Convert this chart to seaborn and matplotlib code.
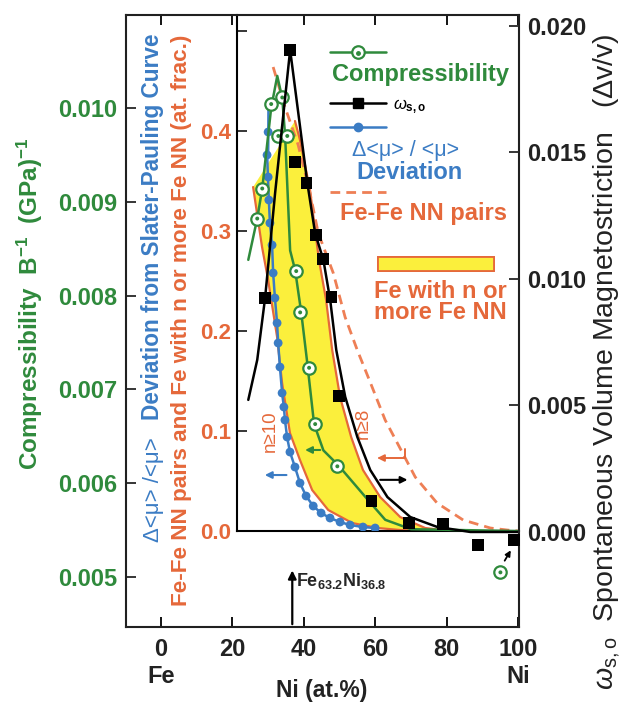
import numpy as np
import pandas as pd
import seaborn as sns
import matplotlib.pyplot as plt
from matplotlib.lines import Line2D
from matplotlib.patches import Patch

# compressibility B^-1 (GPa^-1), open circles
comp_ni = [27.0, 28.4, 30.9, 32.9, 34.0, 35.4, 37.9, 39.0, 41.5, 43.2, 49.4, 95.0]
comp_val = [0.00882, 0.00914, 0.01004, 0.00970, 0.01011, 0.00970,
            0.00826, 0.00782, 0.00723, 0.00663, 0.00618, 0.00505]
# compressibility guide curve
comp_line_ni = [24.5, 27.0, 28.4, 30.9, 32.6, 34.0, 34.8, 36.2, 37.6, 39.3,
                40.9, 42.9, 45.5, 49.7, 58.0, 62.8, 70.0, 100.0]
comp_line_val = [0.00838, 0.00882, 0.00914, 0.01000, 0.01034, 0.01010, 0.00970,
                 0.00848, 0.00827, 0.00782, 0.00731, 0.00663, 0.00635, 0.00619,
                 0.00582, 0.00561, 0.00551, 0.00549]

# spontaneous volume magnetostriction omega_s,o, squares
omega_ni = [29.2, 36.1, 37.6, 40.8, 43.4, 45.4, 47.8, 49.8, 59.0, 69.5, 78.9, 88.8, 98.8]
omega_val = [0.00925, 0.01905, 0.01462, 0.01379, 0.01174, 0.01079, 0.00929,
             0.00538, 0.00123, 0.00036, 0.00032, -0.00051, -0.00032]
omega_line_ni = [24.5, 27.0, 29.2, 32.0, 36.2, 41.0, 43.2, 45.5, 47.4, 49.1,
                 51.6, 55.0, 58.6, 63.4, 69.8, 77.3, 86.6, 100.0]
omega_line_val = [0.00522, 0.00680, 0.00925, 0.01340, 0.01905, 0.01380, 0.01180,
                  0.01075, 0.00917, 0.00719, 0.00534, 0.00375, 0.00245, 0.00138,
                  0.00059, 0.00020, 0.0, 0.0]

# deviation from Slater-Pauling curve
dev_ni = [30.2, 30.1, 29.8, 30.1, 30.3, 30.6, 31.2, 31.5, 32.0, 32.6, 32.9, 33.4,
          34.0, 34.5, 34.8, 35.4, 36.2, 37.6, 39.0, 40.7, 42.7, 44.9, 47.4, 50.2,
          53.0, 56.6, 60.0]
dev_val = [0.425, 0.399, 0.376, 0.354, 0.331, 0.308, 0.286, 0.258, 0.233, 0.208,
           0.188, 0.164, 0.138, 0.124, 0.111, 0.094, 0.079, 0.064, 0.048, 0.035,
           0.025, 0.018, 0.013, 0.009, 0.006, 0.004, 0.003]

# Fe-Fe nearest-neighbour pairs (at. frac.)
pairs_ni = [31.5, 34.8, 38.5, 41.8, 44.1, 48.3, 51.6, 55.0, 58.6, 62.8, 66.2,
            71.2, 77.3, 84.6, 92.2, 96.9, 100.0]
pairs_val = [0.464, 0.424, 0.386, 0.338, 0.298, 0.258, 0.214, 0.181, 0.149,
             0.111, 0.088, 0.054, 0.028, 0.011, 0.003, 0.001, 0.0]

# Fe with n or more Fe NN: n>=10 and n>=8 bounds
n10_ni = [25.9, 28.4, 30.1, 32.6, 34.0, 36.2, 39.0, 42.4, 46.9, 53.6, 60.8, 67.0, 75.0]
n10_val = [0.344, 0.284, 0.251, 0.194, 0.148, 0.098, 0.071, 0.041, 0.021, 0.008,
           0.003, 0.001, 0.0]
n8_ni = [37.6, 39.0, 41.8, 44.3, 46.3, 48.0, 50.2, 53.3, 56.6, 61.4, 67.0, 74.0, 81.0]
n8_val = [0.410, 0.391, 0.341, 0.271, 0.231, 0.181, 0.134, 0.094, 0.061, 0.034,
          0.014, 0.003, 0.0]

GREEN = "#2f8a3c"
BLUE = "#3b7cc4"
ORANGE = "#e5683a"
YELLOW = "#fbef3c"
DARK = "#222222"

sns.set_theme(style="white")
plt.rcParams["font.family"] = ["Liberation Sans", "DejaVu Sans"]
plt.rcParams["mathtext.fontset"] = "custom"
plt.rcParams["mathtext.rm"] = "Liberation Sans"
plt.rcParams["mathtext.bf"] = "Liberation Sans:bold"
plt.rcParams["mathtext.it"] = "Liberation Sans:italic"

fig = plt.figure(figsize=(6.25, 7.04), dpi=100)
fig.patch.set_facecolor("white")
ax_in = fig.add_axes([0.3792, 0.2457, 0.4512, 0.7330])
ax_out = fig.add_axes([0.2016, 0.1094, 0.6288, 0.8693])
ax_out.patch.set_alpha(0)
ax_in.set_zorder(1)
ax_out.set_zorder(2)
ax_r = ax_out.twinx()
ax_r.set_zorder(3)

# ---- inner axes: fractions ----
poly_x = n10_ni + n8_ni[::-1]
poly_y = n10_val + n8_val[::-1]
ax_in.fill(poly_x, poly_y, color=YELLOW, zorder=1, lw=0)
sns.lineplot(x=n10_ni, y=n10_val, ax=ax_in, color=ORANGE, lw=1.6, sort=False, zorder=2)
sns.lineplot(x=n8_ni, y=n8_val, ax=ax_in, color=ORANGE, lw=1.6, sort=False, zorder=2)
sns.lineplot(x=pairs_ni, y=pairs_val, ax=ax_in, color="#ee7f55", lw=2.0,
             sort=False, zorder=2).lines[-1].set_dashes([3.5, 2.2])
sns.lineplot(x=dev_ni, y=dev_val, ax=ax_in, color=BLUE, lw=1.8, sort=False, zorder=3)
sns.scatterplot(x=dev_ni[1:], y=dev_val[1:], ax=ax_in, color=BLUE, s=40,
                edgecolor="none", zorder=4)

ax_in.set_xlim(21.4, 100.2)
ax_in.set_ylim(0, 0.516)
ax_in.set_xticks([])
ax_in.set_yticks([0.0, 0.1, 0.2, 0.3, 0.4, 0.5])
ax_in.set_yticklabels(["0.0", "0.1", "0.2", "0.3", "0.4", ""])
ax_in.tick_params(axis="y", direction="in", length=7, width=1.3, pad=4,
                  labelsize=16, labelcolor=ORANGE, left=True)
for lab in ax_in.get_yticklabels():
    lab.set_fontweight("bold")
for s in ["top", "right"]:
    ax_in.spines[s].set_visible(False)
for s in ["left", "bottom"]:
    ax_in.spines[s].set_linewidth(1.5)
    ax_in.spines[s].set_color("black")
ax_in.set_xlabel("")
ax_in.set_ylabel("")

ax_in.text(30.6, 0.10, "n≥10", color=ORANGE, fontsize=13.5, rotation=90,
           ha="center", va="center")
ax_in.text(56.6, 0.108, "n≥8", color=ORANGE, fontsize=13.5, rotation=90,
           ha="center", va="center")
ax_in.annotate("", xy=(28.4, 0.056), xytext=(36.0, 0.056),
               arrowprops=dict(arrowstyle="-|>", color=BLUE, lw=1.5, mutation_scale=10))
ax_in.annotate("", xy=(59.8, 0.073), xytext=(68.4, 0.085),
               arrowprops=dict(arrowstyle="-|>", color=ORANGE, lw=1.4, mutation_scale=10,
                               connectionstyle="angle,angleA=90,angleB=0,rad=0"))

# legend keys
def key(handle, fx, fy, length, height=0.7):
    leg = ax_in.legend(handles=[handle], labels=[""], loc="center",
                       bbox_to_anchor=(fx, fy), frameon=False, handlelength=length,
                       handleheight=height, handletextpad=0, borderpad=0, fontsize=10)
    ax_in.add_artist(leg)

key(Line2D([], [], color=GREEN, lw=1.8, marker="o", ms=9, mfc="white", mec=GREEN, mew=1.6),
    0.43, 0.926, 4.0)
key(Line2D([], [], color="black", lw=1.8, marker="s", ms=6.5), 0.43, 0.828, 4.0)
key(Line2D([], [], color=BLUE, lw=1.8, marker="o", ms=6), 0.43, 0.781, 4.0)
key(Line2D([], [], color="#ee7f55", lw=2.0, ls=(0, (3.5, 2.2))), 0.43, 0.655, 4.0)
key(Patch(facecolor=YELLOW, edgecolor=ORANGE, lw=1.3), 0.706, 0.516, 8.4, 1.15)
ax_in.plot([0.43], [0.926], transform=ax_in.transAxes, marker="o", ms=2.5,
           color=GREEN, zorder=10)

ax_in.text(0.337, 0.884, "Compressibility", transform=ax_in.transAxes, color=GREEN,
           fontsize=17, fontweight="bold", ha="left", va="center")
ax_in.text(0.553, 0.822, r"$\omega_{\mathbf{s,o}}$", transform=ax_in.transAxes,
           color="black", fontsize=12, ha="left", va="center")
ax_in.text(0.596, 0.738, "Δ<μ> / <μ>", transform=ax_in.transAxes, color=BLUE,
           fontsize=15.5, ha="center", va="center")
ax_in.text(0.613, 0.694, "Deviation", transform=ax_in.transAxes, color=BLUE,
           fontsize=17, fontweight="bold", ha="center", va="center")
ax_in.text(0.365, 0.616, "Fe-Fe NN pairs", transform=ax_in.transAxes, color=ORANGE,
           fontsize=17, fontweight="bold", ha="left", va="center")
ax_in.text(0.72, 0.444, "Fe with n or\nmore Fe NN", transform=ax_in.transAxes,
           color=ORANGE, fontsize=17, fontweight="bold", ha="center", va="center",
           linespacing=0.92)

# ---- outer axes: compressibility ----
sns.lineplot(x=comp_line_ni, y=comp_line_val, ax=ax_out, color=GREEN, lw=1.8,
             sort=False, zorder=2)
sns.scatterplot(x=comp_ni, y=comp_val, ax=ax_out, marker="o", s=80, color="white",
                edgecolor=GREEN, linewidth=1.6, zorder=3, clip_on=False)
sns.scatterplot(x=comp_ni, y=comp_val, ax=ax_out, marker="o", s=8, color=GREEN,
                edgecolor="none", zorder=4, clip_on=False)
ax_out.annotate("", xy=(39.6, 0.006354), xytext=(45.4, 0.006354),
                arrowprops=dict(arrowstyle="-|>", color=GREEN, lw=1.5, mutation_scale=10))

ax_out.set_xlim(-9.7, 100.2)
ax_out.set_ylim(0.004468, 0.010989)
ax_out.set_xticks([0, 20, 40, 60, 80, 100])
ax_out.set_xticklabels(["0\nFe", "20", "40", "60", "80", "100\nNi"])
ax_out.set_yticks([0.005, 0.006, 0.007, 0.008, 0.009, 0.010])
ax_out.set_yticklabels(["0.005", "0.006", "0.007", "0.008", "0.009", "0.010"])
ax_out.tick_params(axis="x", direction="in", length=7, width=1.3, top=True,
                   bottom=True, labelsize=17, pad=8, colors="black", labelcolor=DARK)
ax_out.tick_params(axis="y", direction="in", length=7, width=1.3, left=True,
                   labelsize=17, pad=6, labelcolor=GREEN)
for lab in ax_out.get_xticklabels() + ax_out.get_yticklabels():
    lab.set_fontweight("bold")
for s in ax_out.spines.values():
    s.set_linewidth(1.5)
    s.set_color("black")
ax_out.set_xlabel("")
ax_out.set_ylabel("")
fig.text(322 / 625, 1 - 690 / 704, "Ni (at.%)", fontsize=16.5, fontweight="bold",
         color=DARK, ha="center", va="center")

ax_out.annotate("", xy=(36.8, 0.00510), xytext=(36.8, 0.004468),
                arrowprops=dict(arrowstyle="-|>", color="black", lw=1.6, mutation_scale=12))
ax_out.text(37.8, 0.00496, r"Fe$_{\mathbf{63.2}}$Ni$_{\mathbf{36.8}}$", fontsize=13,
            fontweight="bold", ha="left", va="center")

# ---- right axis: omega_s,o ----
sns.lineplot(x=omega_line_ni, y=omega_line_val, ax=ax_r, color="black", lw=1.8,
             sort=False, zorder=2)
sns.scatterplot(x=omega_ni, y=omega_val, ax=ax_r, marker="s", s=70, color="black",
                edgecolor="none", zorder=3, clip_on=False)
ax_r.annotate("", xy=(69.8, 0.00206), xytext=(60.6, 0.00206),
              arrowprops=dict(arrowstyle="-|>", color="black", lw=1.5, mutation_scale=10))
ax_r.annotate("", xy=(98.3, -0.00063), xytext=(95.8, -0.00123),
              arrowprops=dict(arrowstyle="-|>", color="black", lw=1.3, mutation_scale=8))
ax_r.set_ylim(-0.003755, 0.02043)
ax_r.set_yticks([0.0, 0.005, 0.010, 0.015, 0.020])
ax_r.set_yticklabels(["0.000", "0.005", "0.010", "0.015", "0.020"])
ax_r.tick_params(axis="y", direction="in", length=7, width=1.3, right=True,
                 labelsize=17, pad=6, labelcolor=DARK)
for lab in ax_r.get_yticklabels():
    lab.set_fontweight("bold")
ax_r.set_ylabel("")

# ---- axis titles ----
fig.text(30 / 625, 1 - 470 / 704,
         r"Compressibility  B$^{\mathbf{-1}}$  (GPa)$^{\mathbf{-1}}$",
         rotation=90, color=GREEN, fontsize=17.5, fontweight="bold",
         ha="center", va="bottom")
fig.text(153 / 625, 1 - 33 / 704, "Deviation from Slater-Pauling Curve", rotation=90,
         color=BLUE, fontsize=16.3, fontweight="bold", ha="center", va="top")
fig.text(153 / 625, 1 - 437 / 704, "Δ<μ> /<μ>", rotation=90, color=BLUE,
         fontsize=16, ha="center", va="top")
fig.text(181 / 625, 1 - 320 / 704, "Fe-Fe NN pairs and Fe with n or more Fe NN (at. frac.)",
         rotation=90, color=ORANGE, fontsize=16.2, fontweight="bold",
         ha="center", va="center")
fig.text(607 / 625, 1 - 690 / 704,
         r"$\omega_{\mathrm{s,o}}$  Spontaneous Volume Magnetostriction   (Δv/v)",
         rotation=90, color=DARK, fontsize=20.5, ha="center", va="bottom")

fig.savefig("out.png", dpi=100)
